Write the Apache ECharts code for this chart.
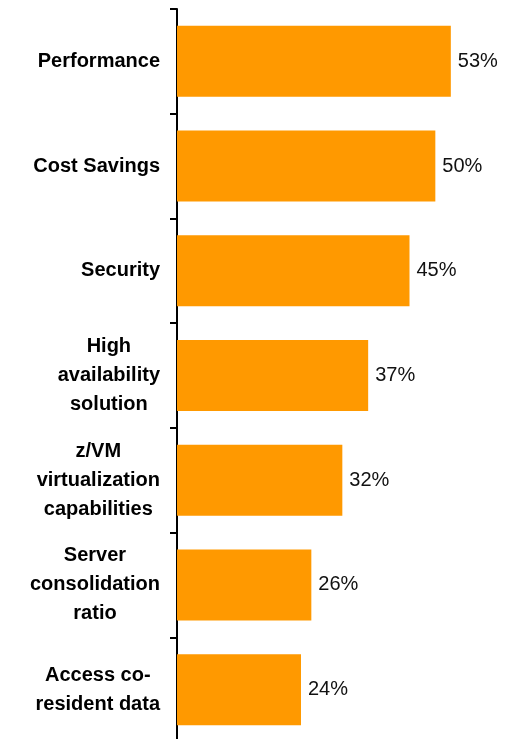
<!DOCTYPE html>
<html>
<head>
<meta charset="utf-8">
<script src="https://cdn.jsdelivr.net/npm/echarts@6/dist/echarts.min.js"></script>
<style>html,body{margin:0;padding:0;background:#fff}#c{width:508px;height:739px}</style>
</head>
<body>
<div id="c"></div>
<script>
const categories = [
  "Performance",
  "Cost Savings",
  "Security",
  "High\navailability\nsolution",
  "z/VM\nvirtualization\ncapabilities",
  "Server\nconsolidation\nratio",
  "Access co-\nresident data"
];
const values = [53, 50, 45, 37, 32, 26, 24];

const chart = echarts.init(document.getElementById('c'), null, {renderer: 'canvas'});
chart.setOption({
  animation: false,
  backgroundColor: '#ffffff',
  grid: {left: 177, top: 9, width: 310, height: 733, containLabel: false, outerBoundsMode: 'none'},
  xAxis: {type: 'value', min: 0, max: 60, show: false},
  yAxis: {
    type: 'category',
    data: categories,
    inverse: true,
    axisLine: {show: true, lineStyle: {color: '#000', width: 2}},
    axisTick: {show: true, length: 7, lineStyle: {color: '#000', width: 2}},
    axisLabel: {
      interval: 0,
      margin: 17,
      align: 'right',
      formatter: v => v.split('\n').map(l => '{c|' + l + '}').join('\n'),
      rich: {
        c: {align: 'center', fontSize: 20, fontWeight: 'bold', lineHeight: 29,
            color: '#000', fontFamily: 'Liberation Sans, Arial, sans-serif'}
      }
    },
    splitLine: {show: false}
  },
  series: [{
    type: 'bar',
    data: values,
    barWidth: 71,
    itemStyle: {color: '#FF9900'},
    label: {
      show: true,
      position: 'right',
      distance: 7,
      formatter: p => p.value + '%',
      fontSize: 20,
      color: '#111',
      fontFamily: 'Liberation Sans, Arial, sans-serif'
    }
  }]
});
</script>
</body>
</html>
